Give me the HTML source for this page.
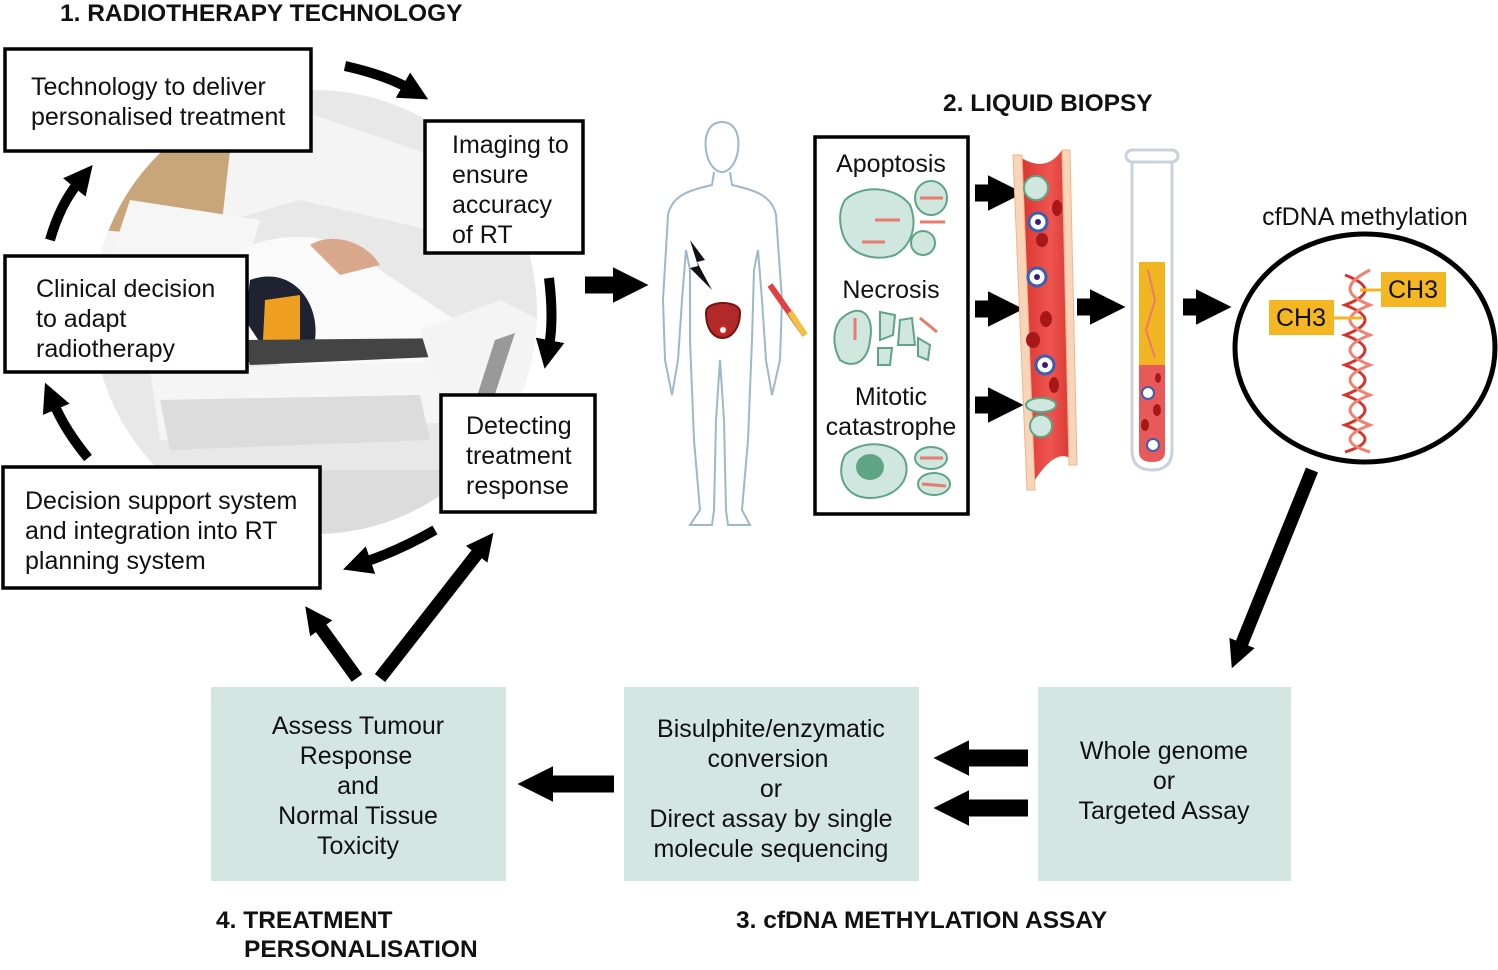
<!DOCTYPE html>
<html><head><meta charset="utf-8"><style>
html,body{margin:0;padding:0;background:#fff}
svg{display:block}
text{font-family:"Liberation Sans",Arial,sans-serif;fill:#111}
.h{font-weight:bold;font-size:24.5px}
.t{font-size:25px}
</style></head><body>
<svg width="1498" height="970" viewBox="0 0 1498 970" xmlns="http://www.w3.org/2000/svg">
<defs>
<marker id="a" viewBox="0 0 10 10" refX="2" refY="5" markerWidth="2.1" markerHeight="2.5" orient="auto" markerUnits="strokeWidth"><path d="M0,0 L10,5 L0,10 z" fill="#000"/></marker>
<marker id="c" viewBox="0 0 10 10" refX="2" refY="5" markerWidth="2.9" markerHeight="3.5" orient="auto" markerUnits="strokeWidth"><path d="M0,0 L10,5 L0,10 z" fill="#000"/></marker>
<clipPath id="ph"><circle cx="315" cy="312" r="222"/></clipPath>
<linearGradient id="ves" x1="0" x2="1"><stop offset="0" stop-color="#d8302a"/><stop offset="0.6" stop-color="#ee5550"/><stop offset="1" stop-color="#d83530"/></linearGradient>
</defs>

<!-- photo -->
<g clip-path="url(#ph)">
<rect x="90" y="90" width="460" height="460" fill="#e8e8e8"/>
<path d="M90,180 L300,110 L560,200 L560,260 L300,200 L90,260z" fill="#f4f4f4"/>
<path d="M120,150 L230,150 L220,240 L100,230z" fill="#c9a57a"/>
<path d="M130,200 L260,220 L240,290 L110,260z" fill="#f6f6f6"/>
<path d="M240,250 C280,230 340,230 380,270 L470,330 L420,380 L300,380 L230,330z" fill="#fafafa"/>
<path d="M250,280 C290,265 320,300 315,340 L265,350 L245,320z" fill="#1f2230"/>
<path d="M310,245 C330,232 365,240 380,265 L340,275z" fill="#d9a88c"/>
<path d="M265,300 L300,295 L300,360 L262,360z" fill="#f0a020"/>
<path d="M240,340 L470,338 L480,355 L250,365z" fill="#444"/>
<path d="M150,370 L470,360 L480,420 L160,440z" fill="#f5f5f5"/>
<path d="M160,400 L420,395 L430,440 L170,450z" fill="#dcdcdc"/>
<path d="M420,330 L500,300 L560,330 L520,460 L460,460z" fill="#f4f4f4"/>
<path d="M495,340 L515,333 L470,470 L455,465z" fill="#999"/>
<path d="M180,470 L460,470 L470,550 L170,550z" fill="#dcdcdc"/>
</g>

<text class="h" x="60" y="21">1. RADIOTHERAPY TECHNOLOGY</text>
<text class="h" x="943" y="111">2. LIQUID BIOPSY</text>
<text class="h" x="736" y="928">3. cfDNA METHYLATION ASSAY</text>
<text class="h" x="216" y="928">4. TREATMENT</text>
<text class="h" x="244" y="957">PERSONALISATION</text>

<g fill="#fff" stroke="#000" stroke-width="3.5">
<rect x="5" y="49" width="306" height="102"/>
<rect x="425" y="121" width="158" height="132"/>
<rect x="5" y="256" width="242" height="116"/>
<rect x="441" y="395" width="154" height="117"/>
<rect x="3" y="467" width="317" height="121"/>
<rect x="815" y="137" width="153" height="377"/>
</g>
<text class="t" x="31" y="95">Technology to deliver</text>
<text class="t" x="31" y="125">personalised treatment</text>
<text class="t" x="452" y="153">Imaging to</text>
<text class="t" x="452" y="183">ensure</text>
<text class="t" x="452" y="213">accuracy</text>
<text class="t" x="452" y="243">of RT</text>
<text class="t" x="36" y="297">Clinical decision</text>
<text class="t" x="36" y="327">to adapt</text>
<text class="t" x="36" y="357">radiotherapy</text>
<text class="t" x="466" y="434">Detecting</text>
<text class="t" x="466" y="464">treatment</text>
<text class="t" x="466" y="494">response</text>
<text class="t" x="25" y="509">Decision support system</text>
<text class="t" x="25" y="539">and integration into RT</text>
<text class="t" x="25" y="569">planning system</text>

<g fill="none" stroke="#000" stroke-width="10">
<path d="M345,66 Q385,75 408,88" marker-end="url(#c)"/>
<path d="M549,278 Q554,320 549,346" marker-end="url(#c)"/>
<path d="M50,240 Q60,205 78,183" marker-end="url(#c)"/>
<path d="M88,458 Q65,430 54,404" marker-end="url(#c)"/>
<path d="M435,530 Q400,550 365,562" marker-end="url(#c)"/>
<path d="M380,678 L480,550" stroke-width="13" marker-end="url(#a)"/>
<path d="M357,678 L318,624" stroke-width="13" marker-end="url(#a)"/>
<path d="M1312,470 L1240,648" stroke-width="13" marker-end="url(#a)"/>
</g>
<g stroke="#000" stroke-width="17" marker-end="url(#a)">
<line x1="585" y1="285" x2="620" y2="285"/>
<line x1="975" y1="193" x2="995" y2="193"/>
<line x1="975" y1="309" x2="995" y2="309"/>
<line x1="975" y1="405" x2="995" y2="405"/>
<line x1="1077" y1="307" x2="1097" y2="307"/>
<line x1="1183" y1="307" x2="1203" y2="307"/>
<line x1="1028" y1="758" x2="962" y2="758"/>
<line x1="1028" y1="808" x2="962" y2="808"/>
<line x1="614" y1="784" x2="546" y2="784"/>
</g>

<!-- human -->
<g fill="none" stroke="#9db8c8" stroke-width="2">
<path d="M722,122 C735,122 740,135 738,150 C736,165 728,172 722,172 C716,172 708,165 706,150 C704,135 709,122 722,122z"/>
<path d="M714,172 L712,185 C690,190 672,195 668,215 L663,300 L665,360 L672,395 L678,360 L682,300 L686,250 L690,270 L690,340 L694,440 L700,510 L690,525 L712,525 L714,510 L716,420 L720,360 L724,420 L726,510 L728,525 L750,525 L742,510 L748,440 L752,340 L754,270 L758,250 L762,300 L766,360 L772,395 L780,360 L782,300 L776,215 C772,195 754,190 732,185 L730,172"/>
</g>
<path d="M706,312 C706,300 740,300 740,312 C740,330 730,338 723,338 C714,338 706,330 706,312z" fill="#b02a2a" stroke="#7a1010" stroke-width="2"/>
<circle cx="723" cy="330" r="4" fill="#fff" stroke="#d22" stroke-width="2"/>
<path d="M690,240 L705,260 L697,262 L712,290 L690,268 L698,266z" fill="#111"/>
<path d="M770,285 L805,335" stroke="#e04040" stroke-width="6"/>
<path d="M790,312 L805,335" stroke="#f0c040" stroke-width="6"/>

<text class="t" x="891" y="172" text-anchor="middle">Apoptosis</text>
<text class="t" x="891" y="298" text-anchor="middle">Necrosis</text>
<text class="t" x="891" y="405" text-anchor="middle">Mitotic</text>
<text class="t" x="891" y="435" text-anchor="middle">catastrophe</text>
<g fill="#cfe7df" stroke="#5fa585" stroke-width="2">
<path d="M845,200 C860,185 895,185 910,205 C918,225 912,245 895,255 C875,262 850,255 843,235 C838,220 840,208 845,200z"/>
<ellipse cx="931" cy="198" rx="16" ry="17"/><circle cx="923" cy="243" r="12"/>
<path d="M840,320 C860,300 875,315 870,340 C868,360 855,370 840,360 C832,345 833,330 840,320z"/>
<path d="M880,312 L895,315 L893,335 L880,340z"/><path d="M900,320 L912,318 L915,345 L898,345z"/>
<path d="M878,348 L892,348 L890,365 L878,365z"/><path d="M918,338 L930,345 L928,360 L918,356z"/>
<path d="M845,455 C860,440 895,440 905,460 C912,480 895,498 870,498 C845,498 835,475 845,455z"/>
<ellipse cx="931" cy="458" rx="16" ry="11"/><ellipse cx="934" cy="484" rx="16" ry="11"/>
</g>
<ellipse cx="870" cy="467" rx="14" ry="13" fill="#5fa585"/>
<g stroke="#e87b6b" stroke-width="3">
<line x1="875" y1="220" x2="900" y2="220"/><line x1="862" y1="242" x2="885" y2="242"/>
<line x1="920" y1="198" x2="943" y2="198"/><line x1="920" y1="222" x2="945" y2="222"/>
<line x1="855" y1="318" x2="855" y2="340"/><line x1="920" y1="318" x2="937" y2="332"/>
<line x1="920" y1="458" x2="943" y2="458"/><line x1="922" y1="484" x2="946" y2="486"/>
</g>

<path d="M1017,155 Q1045,175 1062,150 L1073,460 Q1055,445 1030,488z" fill="url(#ves)"/>
<path d="M1013,155 L1022,155 L1035,490 L1027,490z" fill="#f8d5b8" stroke="#efb48a"/>
<path d="M1062,150 L1070,150 L1077,465 L1069,465z" fill="#f8d5b8" stroke="#efb48a"/>
<g fill="#fff" stroke="#3a5fb0" stroke-width="3">
<circle cx="1038" cy="222" r="9"/><circle cx="1037" cy="277" r="9"/><circle cx="1045" cy="365" r="9"/>
</g>
<g fill="#3b1f6e"><circle cx="1038" cy="222" r="3"/><circle cx="1037" cy="277" r="3"/><circle cx="1045" cy="365" r="3"/></g>
<g fill="#a81818"><ellipse cx="1057" cy="208" rx="5" ry="8"/><ellipse cx="1042" cy="240" rx="6" ry="7"/><ellipse cx="1046" cy="319" rx="6" ry="8"/><ellipse cx="1033" cy="340" rx="7" ry="8"/><ellipse cx="1054" cy="385" rx="5" ry="8"/></g>
<g fill="#cfe7df" stroke="#5fa585" stroke-width="2"><circle cx="1036" cy="188" r="12"/><ellipse cx="1041" cy="405" rx="15" ry="7"/><circle cx="1041" cy="426" r="11"/></g>

<path d="M1132,160 L1132,450 Q1132,470 1152,470 Q1172,470 1172,450 L1172,160" fill="#fff" stroke="#c8d3dc" stroke-width="3"/>
<rect x="1126" y="150" width="52" height="12" rx="6" fill="#fff" stroke="#c8d3dc" stroke-width="3"/>
<rect x="1139" y="262" width="26" height="103" fill="#f0b520"/>
<path d="M1139,365 L1165,365 L1165,452 Q1165,462 1152,462 Q1139,462 1139,452z" fill="#e85a5a"/>
<g fill="#fff" stroke="#3a5fb0" stroke-width="2"><circle cx="1148" cy="393" r="6"/><circle cx="1153" cy="445" r="6"/></g>
<g fill="#a81818"><ellipse cx="1158" cy="378" rx="3" ry="5"/><ellipse cx="1157" cy="410" rx="4" ry="6"/><ellipse cx="1145" cy="425" rx="4" ry="6"/></g>
<path d="M1148,270 L1155,300 L1146,330 L1155,358" stroke="#e87b6b" stroke-width="2" fill="none"/>

<text class="t" x="1365" y="225" text-anchor="middle">cfDNA methylation</text>
<ellipse cx="1365" cy="348" rx="130" ry="114" fill="#fff" stroke="#000" stroke-width="5"/>
<path d="M1345,275 Q1385,290 1345,305 Q1385,320 1345,335 Q1385,350 1345,365 Q1385,380 1345,395 Q1385,410 1345,425 Q1385,440 1345,452" fill="none" stroke="#d8332a" stroke-width="3"/>
<path d="M1370,270 Q1330,290 1370,305 Q1330,320 1370,335 Q1330,350 1370,365 Q1330,380 1370,395 Q1330,410 1370,425 Q1330,440 1370,452" fill="none" stroke="#f08070" stroke-width="3"/>
<line x1="1360" y1="290" x2="1385" y2="290" stroke="#f0b520" stroke-width="3"/>
<line x1="1333" y1="318" x2="1362" y2="318" stroke="#f0b520" stroke-width="3"/>
<rect x="1381" y="272" width="65" height="35" fill="#f5b623"/>
<rect x="1269" y="300" width="65" height="35" fill="#f5b623"/>
<text class="t" x="1413" y="298" text-anchor="middle">CH3</text>
<text class="t" x="1301" y="326" text-anchor="middle">CH3</text>

<g fill="#d3e6e1"><rect x="211" y="687" width="295" height="194"/><rect x="624" y="687" width="295" height="194"/><rect x="1038" y="687" width="253" height="194"/></g>
<g text-anchor="middle">
<text class="t" x="358" y="734">Assess Tumour</text>
<text class="t" x="356" y="764">Response</text>
<text class="t" x="358" y="794">and</text>
<text class="t" x="358" y="824">Normal Tissue</text>
<text class="t" x="358" y="854">Toxicity</text>
<text class="t" x="771" y="737">Bisulphite/enzymatic</text>
<text class="t" x="768" y="767">conversion</text>
<text class="t" x="771" y="797">or</text>
<text class="t" x="771" y="827">Direct assay by single</text>
<text class="t" x="771" y="857">molecule sequencing</text>
<text class="t" x="1164" y="759">Whole genome</text>
<text class="t" x="1164" y="789">or</text>
<text class="t" x="1164" y="819">Targeted Assay</text>
</g>
</svg>
</body></html>
